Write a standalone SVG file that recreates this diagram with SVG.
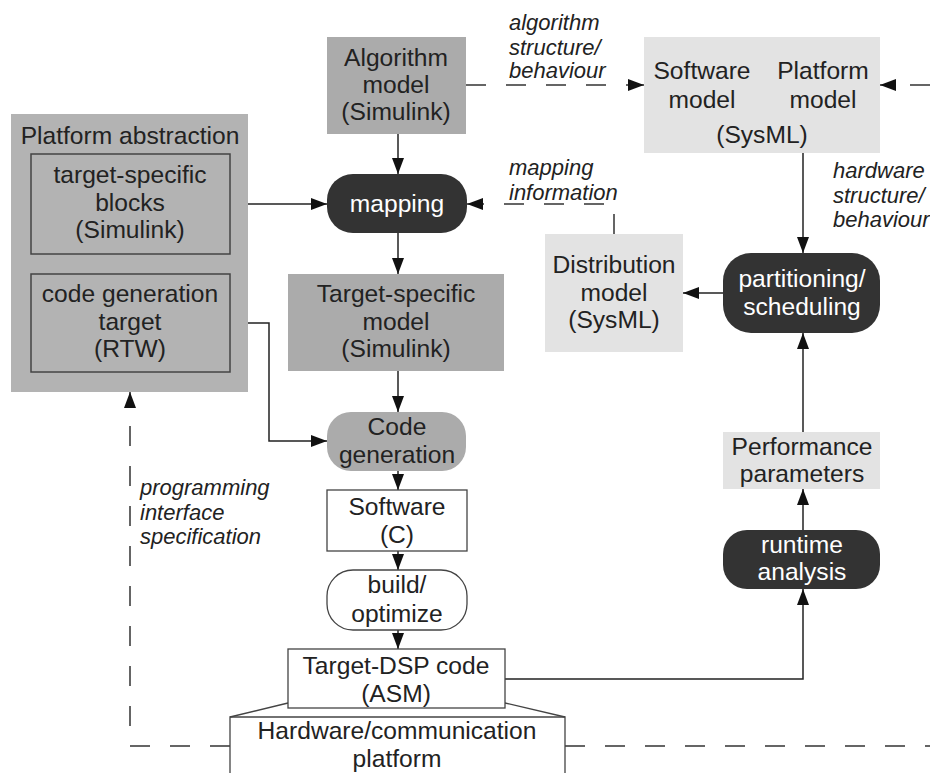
<svg xmlns="http://www.w3.org/2000/svg" width="930" height="773" viewBox="0 0 930 773">
<defs>
<marker id="ah" markerUnits="userSpaceOnUse" markerWidth="16" markerHeight="12" refX="16" refY="6" orient="auto">
<path d="M0,0 L16,6 L0,12 z" fill="#111"/>
</marker>
<style>
text{font-family:"Liberation Sans",Arial,sans-serif;font-size:24.6px;fill:#222;text-anchor:middle}
.w{fill:#fff}
.lbl{font-style:italic;font-size:22px;text-anchor:start}
.mid{fill:#ababab}
.abs{fill:#b3b3b3}
.lt{fill:#e3e3e3}
.dk{fill:#333}
.wh{fill:#fff;stroke:#444;stroke-width:1.3}
.in{fill:#b3b3b3;stroke:#444;stroke-width:1.5}
.c{fill:none;stroke:#222;stroke-width:1.5}
.d{fill:none;stroke:#333;stroke-width:1.5;stroke-dasharray:20 20}
</style>
</defs>
<rect width="930" height="773" fill="#fff"/>

<g id="connectors">
<path class="c" d="M398,134 V174" marker-end="url(#ah)"/>
<path class="c" d="M230,204 H327" marker-end="url(#ah)"/>
<path class="c" d="M398,233 V274" marker-end="url(#ah)"/>
<path class="c" d="M230,323 H269 V441 H327" marker-end="url(#ah)"/>
<path class="c" d="M398,371 V412" marker-end="url(#ah)"/>
<path class="c" d="M398,471 V490" marker-end="url(#ah)"/>
<path class="c" d="M398,551 V570" marker-end="url(#ah)"/>
<path class="c" d="M398,630 V649" marker-end="url(#ah)"/>
<path class="c" d="M505,679 H803 V589" marker-end="url(#ah)"/>
<path class="c" d="M803,530 V489" marker-end="url(#ah)"/>
<path class="c" d="M803,432 V333" marker-end="url(#ah)"/>
<path class="c" d="M803,153 V253" marker-end="url(#ah)"/>
<path class="c" d="M723,293 H683" marker-end="url(#ah)"/>
<path class="d" d="M466,85 H644" marker-end="url(#ah)"/>
<path class="d" d="M930,85 H880" marker-end="url(#ah)"/>
<path class="d" d="M614,234 V204 H467" marker-end="url(#ah)"/>
<path class="d" d="M230,746 H130 V392" marker-end="url(#ah)"/>
<path class="d" d="M565,746 H930"/>
</g>

<g id="platform-abstraction">
<rect class="abs" x="11" y="114" width="237" height="278"/>
<text x="130" y="144">Platform abstraction</text>
</g>
<g id="target-specific-blocks">
<rect class="in" x="31" y="154" width="199" height="100"/>
<text x="130" y="183">target-specific</text>
<text x="130" y="211">blocks</text>
<text x="130" y="238">(Simulink)</text>
</g>
<g id="code-generation-target">
<rect class="in" x="31" y="274" width="199" height="98"/>
<text x="130" y="302">code generation</text>
<text x="130" y="330">target</text>
<text x="130" y="357">(RTW)</text>
</g>

<g id="algorithm-model">
<rect class="mid" x="327" y="37" width="139" height="97"/>
<text x="396" y="66">Algorithm</text>
<text x="396" y="93">model</text>
<text x="396" y="120">(Simulink)</text>
</g>

<g id="mapping">
<rect class="dk" x="327" y="174" width="140" height="59" rx="26"/>
<text class="w" x="397" y="212">mapping</text>
</g>

<g id="target-specific-model">
<rect class="mid" x="288" y="274" width="216" height="97"/>
<text x="396" y="302">Target-specific</text>
<text x="396" y="330">model</text>
<text x="396" y="357">(Simulink)</text>
</g>

<g id="code-generation">
<rect class="mid" x="327" y="412" width="139" height="59" rx="24"/>
<text x="397" y="435">Code</text>
<text x="397" y="463">generation</text>
</g>

<g id="software-c">
<rect class="wh" x="327" y="490" width="140" height="61"/>
<text x="397" y="515">Software</text>
<text x="397" y="543">(C)</text>
</g>

<g id="build-optimize">
<rect class="wh" x="327" y="570" width="140" height="60" rx="26"/>
<text x="397" y="593">build/</text>
<text x="397" y="622">optimize</text>
</g>

<g id="hardware-platform">
<path d="M230,773 V717 H565 V773" fill="#fff" stroke="#444" stroke-width="1.3"/>
<path d="M288,703 L230,717 M505,703 L565,717" fill="none" stroke="#444" stroke-width="1.3"/>
<text x="397" y="739">Hardware/communication</text>
<text x="397" y="767">platform</text>
</g>

<g id="target-dsp-code">
<rect class="wh" x="288" y="649" width="217" height="59"/>
<text x="396" y="674">Target-DSP code</text>
<text x="396" y="702">(ASM)</text>
</g>

<g id="software-platform-model">
<rect class="lt" x="644" y="37" width="236" height="116"/>
<text x="702" y="79">Software</text>
<text x="702" y="108">model</text>
<text x="823" y="79">Platform</text>
<text x="823" y="108">model</text>
<text x="762" y="143">(SysML)</text>
</g>

<g id="distribution-model">
<rect class="lt" x="545" y="234" width="138" height="118"/>
<text x="614" y="273">Distribution</text>
<text x="614" y="301">model</text>
<text x="614" y="328">(SysML)</text>
</g>

<g id="partitioning-scheduling">
<rect class="dk" x="723" y="253" width="157" height="80" rx="28"/>
<text class="w" x="802" y="287">partitioning/</text>
<text class="w" x="802" y="315">scheduling</text>
</g>

<g id="performance-parameters">
<rect class="lt" x="723" y="432" width="157" height="57"/>
<text x="802" y="455">Performance</text>
<text x="802" y="482">parameters</text>
</g>

<g id="runtime-analysis">
<rect class="dk" x="723" y="530" width="157" height="59" rx="24"/>
<text class="w" x="802" y="553">runtime</text>
<text class="w" x="802" y="580">analysis</text>
</g>

<g id="labels">
<text class="lbl" x="509" y="30">algorithm</text>
<text class="lbl" x="509" y="55">structure/</text>
<text class="lbl" x="509" y="78">behaviour</text>
<text class="lbl" x="509" y="175">mapping</text>
<text class="lbl" x="509" y="200">information</text>
<text class="lbl" x="833" y="178">hardware</text>
<text class="lbl" x="833" y="203">structure/</text>
<text class="lbl" x="833" y="227">behaviour</text>
<text class="lbl" x="140" y="495">programming</text>
<text class="lbl" x="140" y="520">interface</text>
<text class="lbl" x="140" y="544">specification</text>
</g>
</svg>
